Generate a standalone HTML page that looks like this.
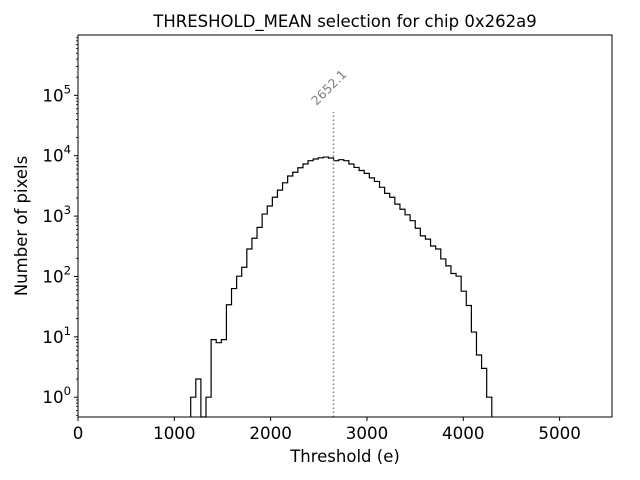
<!DOCTYPE html>
<html><head><meta charset="utf-8"><style>
body{margin:0;background:#fff}
svg{display:block;font-family:"DejaVu Sans","Liberation Sans",sans-serif}
</style></head><body>
<svg id="chart" width="640" height="480"></svg>
<script>
const binStart = 1170;
const binEnd = 4296;
const counts = [1,2,0,1,9,8,9,34,63,101,142,285,430,650,1080,1470,2050,2690,3560,4620,5330,6330,7300,8280,8820,9240,9500,9160,8280,8600,8280,7300,6400,5700,5100,4300,3750,3000,2380,2050,1580,1300,1050,840,630,470,415,320,285,195,150,112,101,57,33,12,5,3,1];
const xTicks = [0,1000,2000,3000,4000,5000];
const yTickExps = [0,1,2,3,4,5];
const meanValue = 2652.1;

const NS="http://www.w3.org/2000/svg";
const svg=document.getElementById('chart');
const L=78,R=612,T=35,B=417;
const xMin=0,xMax=5544,yMinL=Math.log10(0.47),yMaxL=Math.log10(1e6);
const X=v=>L+(v-xMin)/(xMax-xMin)*(R-L);
const Y=v=>B-(Math.log10(v)-yMinL)/(yMaxL-yMinL)*(B-T);
function mk(tag,attrs,parent){const e=document.createElementNS(NS,tag);for(const k in attrs)e.setAttribute(k,attrs[k]);(parent||svg).appendChild(e);return e;}

const w=(binEnd-binStart)/counts.length;
let d='M'+X(binStart)+','+B;
counts.forEach((c,i)=>{
  const y=c>0?Math.max(T,Y(c)):B;
  d+=' L'+X(binStart+i*w)+','+y+' L'+X(binStart+(i+1)*w)+','+y;
});
d+=' L'+X(binEnd)+','+B;
const hist=mk('path',{d:d,fill:'none',stroke:'#000','stroke-width':1.2});



const ml=mk('line',{x1:X(meanValue),x2:X(meanValue),y1:B,y2:112,stroke:'#808080','stroke-width':1.5,'stroke-dasharray':'1.5,2.5'});


const mt=mk('text',{x:X(meanValue)-17,y:106,fill:'#808080','font-size':12.5,transform:'rotate(-45 '+(X(meanValue)-17)+' 106)'});
mt.textContent=meanValue.toFixed(1);



const fr=mk('rect',{x:L,y:T,width:R-L,height:B-T,fill:'none',stroke:'#000','stroke-width':1});



xTicks.forEach(v=>{
  const x=X(v);
  const t=mk('line',{x1:x,x2:x,y1:B,y2:B+4,stroke:'#000'});
  
  
  const l=mk('text',{x:x,y:B+22,'text-anchor':'middle','font-size':16.7});
  l.textContent=v;
  
  
});
yTickExps.forEach(e=>{
  const y=Y(Math.pow(10,e));
  const t=mk('line',{x1:L-4,x2:L,y1:y,y2:y,stroke:'#000'});
  
  
  const l=mk('text',{x:L-7,y:y+6,'text-anchor':'end','font-size':16.7});
  l.innerHTML='10<tspan dy="-8" font-size="11.7">'+e+'</tspan>';
  
  
});
for(let e=-1;e<=5;e++){for(let m=2;m<=9;m++){const v=m*Math.pow(10,e);const y=Y(v);if(y<T||y>B)continue;
  const t=mk('line',{x1:L-2,x2:L,y1:y,y2:y,stroke:'#000','stroke-width':0.8});
  
  }}

const tt=mk('text',{x:345,y:27,'text-anchor':'middle','font-size':16.5});
tt.textContent='THRESHOLD_MEAN selection for chip 0x262a9';


const xt=mk('text',{x:345,y:462,'text-anchor':'middle','font-size':16.5});
xt.textContent='Threshold (e)';


const yt=mk('text',{x:27,y:226,'text-anchor':'middle','font-size':16.5,transform:'rotate(-90 27 226)'});
yt.textContent='Number of pixels';


</script>
</body></html>
